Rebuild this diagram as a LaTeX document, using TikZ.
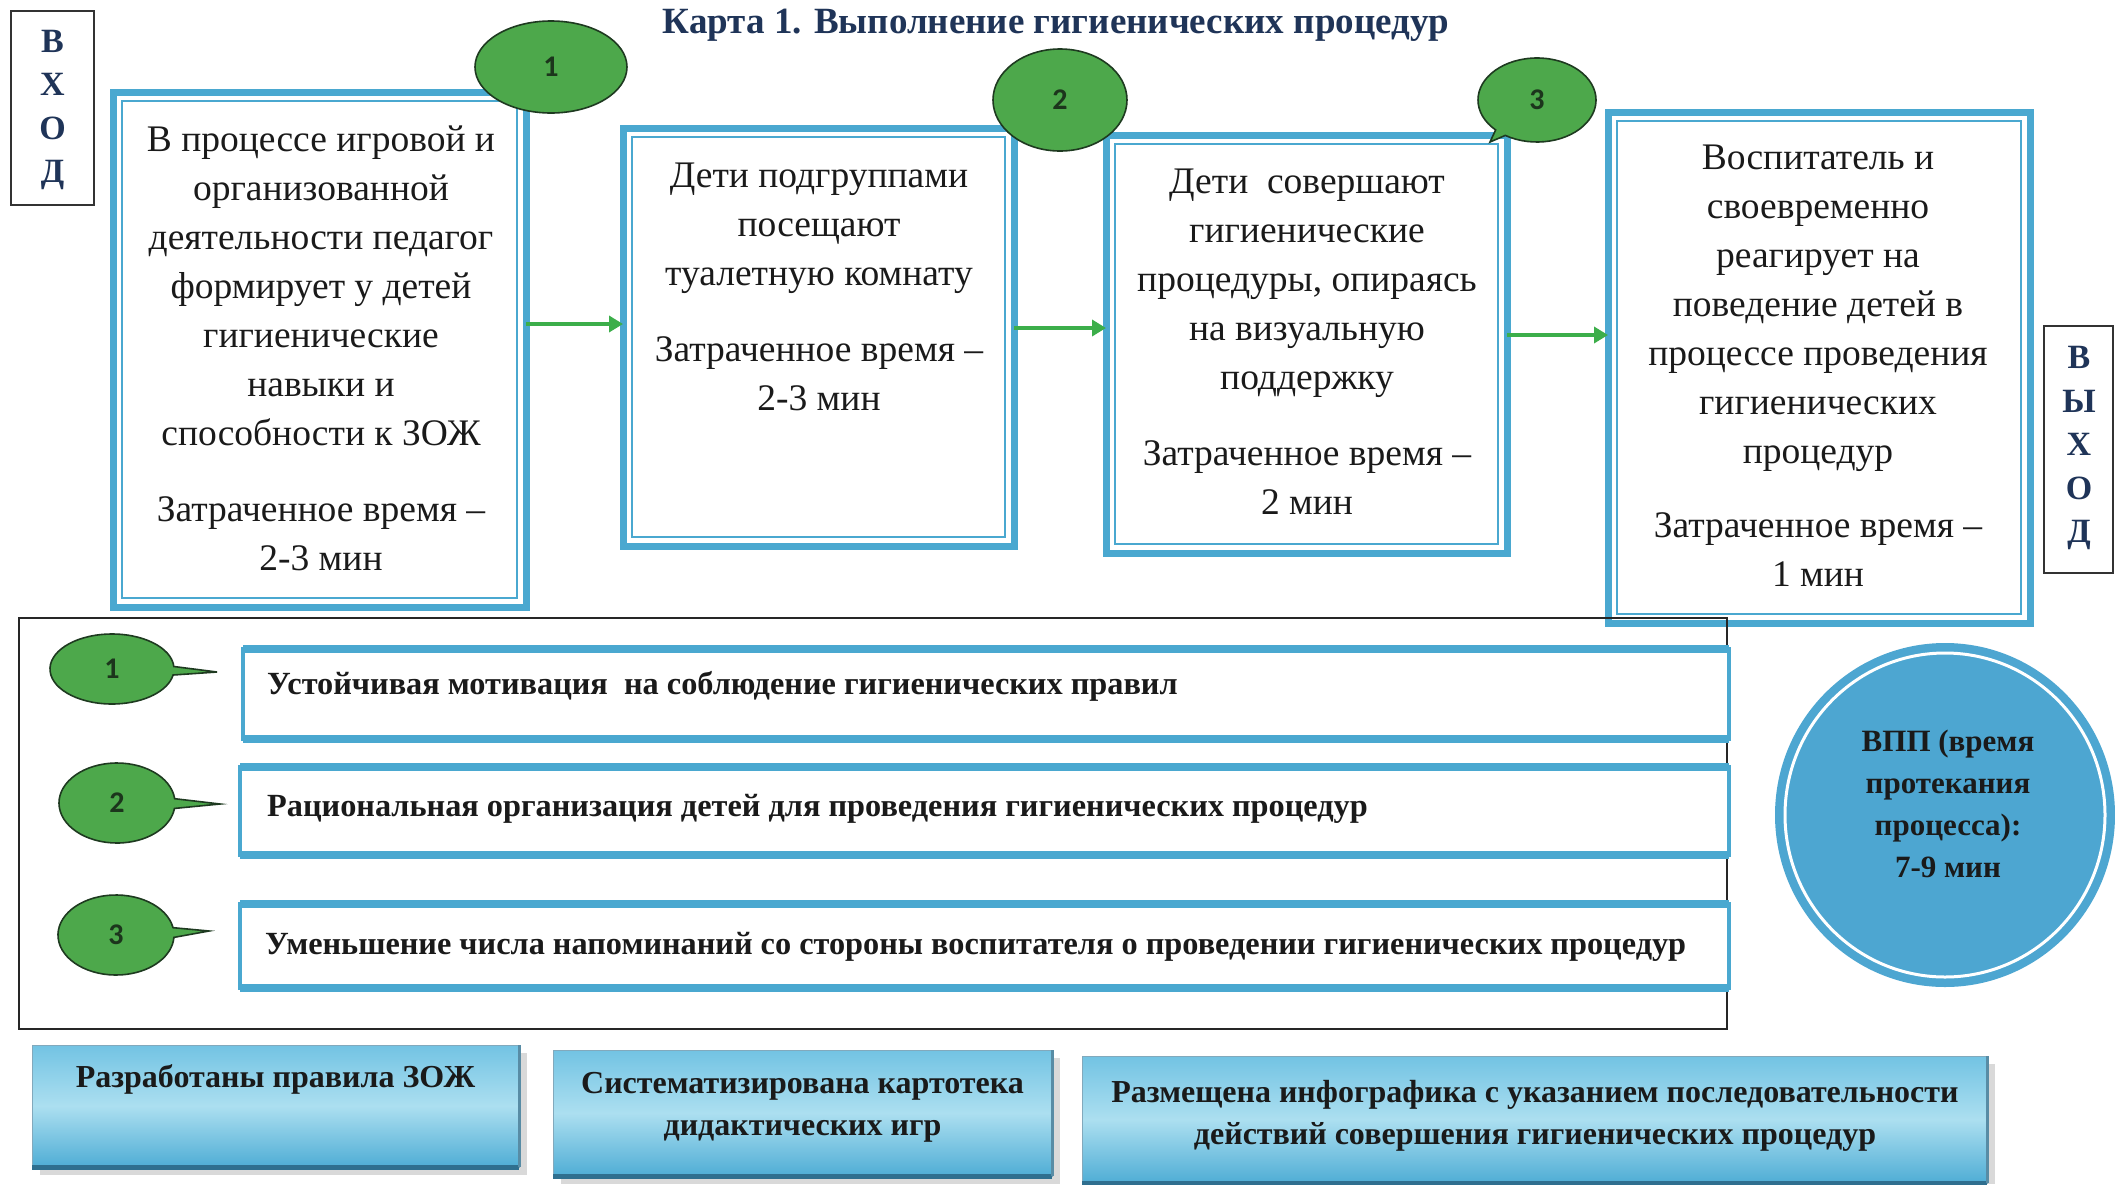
\documentclass[tikz,border=0pt]{standalone}
\usepackage{fontspec}
\setmainfont{Liberation Serif}
\newfontfamily\numfont{Carlito}
\usetikzlibrary{arrows.meta,shapes.geometric,shapes.callouts}
\definecolor{boxblue}{HTML}{4AA8D0}
\definecolor{flowgreen}{HTML}{3CAE4A}
\definecolor{ellgreen}{HTML}{4DA84B}
\definecolor{elldark}{HTML}{1E3A20}
\definecolor{numtxt}{HTML}{1C351C}
\definecolor{txt}{HTML}{1A1A1A}
\definecolor{navy}{HTML}{1F3458}
\definecolor{circblue}{HTML}{4DA6D1}
\definecolor{btop}{HTML}{72C3E3}
\definecolor{bmid}{HTML}{ACDFF0}
\definecolor{bbot}{HTML}{4FADD5}
\definecolor{bshadow}{HTML}{2F6F8F}
\begin{document}
\begin{tikzpicture}[x=1pt,y=-1pt,
  dbox/.style={draw=boxblue, line width=7pt, fill=white, outer sep=0pt, inner sep=0pt},
  innerline/.style={draw=boxblue, line width=1.8pt},
  boxtext/.style={align=center, text=txt, inner sep=0pt, font=\fontsize{37.5}{49}\selectfont},
  sidebox/.style={draw=black!80, line width=2pt, fill=white, outer sep=0pt, inner sep=0pt},
  sidetext/.style={align=center, text=navy, inner sep=0pt, font=\bfseries\fontsize{34}{43.5}\selectfont},
  flow/.style={draw=flowgreen, line width=4pt, -{Triangle[length=14pt,width=16pt]}},
  numell/.style={fill=ellgreen, draw=elldark, line width=1.6pt, inner sep=0pt, text=numtxt, font=\numfont\bfseries\fontsize{30}{30}\selectfont},
  rowbox/.style={draw=boxblue, line width=4pt, fill=white, outer sep=0pt, inner sep=0pt},
  rowedge/.style={draw=boxblue, line width=8pt},
  rowtext/.style={anchor=west, text=txt, inner sep=0pt, font=\bfseries\fontsize{32.3}{32}\selectfont},
  vpptext/.style={align=center, text=txt, inner sep=0pt, font=\bfseries\fontsize{31}{42}\selectfont},
  btmbox/.style={top color=btop, bottom color=bbot, middle color=bmid, draw=bshadow!60, line width=1pt, outer sep=0pt, inner sep=0pt},
  btmtext/.style={align=center, text=txt, inner sep=0pt, font=\bfseries\fontsize{32}{42}\selectfont}
]
\useasboundingbox[fill=white] (0,0) rectangle (2115,1184);

% title
\node[text=navy, inner sep=0pt, font=\bfseries\fontsize{37}{37}\selectfont] (title) at (1056,25) {Карта 1. Выполнение гигиенических процедур};

% side boxes
\node[sidebox, minimum width=83pt, minimum height=194pt] (vhod) at (52.5,108) {};
\node[sidetext] (vhodt) at (52.5,110) {В\\Х\\О\\Д};
\node[sidebox, minimum width=69pt, minimum height=247pt] (vyhod) at (2078.5,449.5) {};
\node[sidetext] (vyhodt) at (2079,448) {В\\Ы\\Х\\О\\Д};

% process boxes
\node[dbox, minimum width=413pt, minimum height=515pt] (b1) at (319.5,349.5) {};
\node[dbox, minimum width=391pt, minimum height=418pt] (b2) at (818.5,337) {};
\node[dbox, minimum width=401pt, minimum height=418pt] (b3) at (1306.5,344) {};
\node[dbox, minimum width=422pt, minimum height=511pt] (b4) at (1819,367.5) {};
\foreach \n in {b1,b2,b3,b4}{
  \draw[innerline] ([xshift=9pt,yshift=-9pt]\n.north west) rectangle ([xshift=-9pt,yshift=9pt]\n.south east);
}
\node[boxtext] (t1) at (321,348) {В процессе игровой и\\ организованной\\ деятельности педагог\\ формирует у детей\\ гигиенические\\ навыки и\\ способности к ЗОЖ\\[27pt] Затраченное время –\\ 2-3 мин};
\node[boxtext] (t2) at (819,287) {Дети подгруппами\\ посещают\\ туалетную комнату\\[27pt] Затраченное время –\\ 2-3 мин};
\node[boxtext] (t3) at (1307,342) {Дети~ совершают\\ гигиенические\\ процедуры, опираясь\\ на визуальную\\ поддержку\\[27pt] Затраченное время –\\ 2 мин};
\node[boxtext] (t4) at (1818,365.5) {Воспитатель и\\ своевременно\\ реагирует на\\ поведение детей в\\ процессе проведения\\ гигиенических\\ процедур\\[25pt] Затраченное время –\\ 1 мин};

% arrows
\coordinate (y1) at (0,324);
\coordinate (y2) at (0,328);
\coordinate (y3) at (0,335);
\draw[flow] (b1.east |- y1) -- (b2.west |- y1);
\draw[flow] (b2.east |- y2) -- (b3.west |- y2);
\draw[flow] (b3.east |- y3) -- (b4.west |- y3);

% numbered ellipses on top
\node[numell, ellipse, minimum width=152pt, minimum height=92pt] (e1) at (551,67) {1};
\node[numell, ellipse, minimum width=134pt, minimum height=102pt] (e2) at (1060,100) {2};
\node[numell, ellipse callout, callout absolute pointer={(1490,142)}, callout pointer arc=12, minimum width=118pt, minimum height=84pt] (e3) at (1537,100) {3};

% legend frame
\node[draw=black!85, line width=2.5pt, minimum width=1708pt, minimum height=411pt, outer sep=0pt, inner sep=0pt] (leg) at (873,823.5) {};

% rows
\node[rowbox, minimum width=1486pt, minimum height=90pt] (r1) at (986,694) {};
\node[rowbox, minimum width=1489pt, minimum height=88pt] (r2) at (984.5,811) {};
\node[rowbox, minimum width=1489pt, minimum height=84pt] (r3) at (984.5,946) {};
\foreach \n in {r1,r2,r3}{
  \draw[rowedge] (\n.north west) -- (\n.north east);
  \draw[rowedge] (\n.south west) -- (\n.south east);
}
\node[rowtext] (r1t) at (267,686) {Устойчивая мотивация~ на соблюдение гигиенических правил};
\node[rowtext] (r2t) at (267,809) {Рациональная организация детей для проведения гигиенических процедур};
\node[rowtext] (r3t) at (265,947) {Уменьшение числа напоминаний со стороны воспитателя о проведении гигиенических процедур};

% legend callouts
\node[numell, ellipse callout, callout absolute pointer={(217,672)}, callout pointer arc=14, minimum width=124pt, minimum height=70pt] (c1) at (112,669) {1};
\node[numell, ellipse callout, callout absolute pointer={(220,804)}, callout pointer arc=14, minimum width=116pt, minimum height=80pt] (c2) at (117,803) {2};
\node[numell, ellipse callout, callout absolute pointer={(209,931)}, callout pointer arc=14, minimum width=116pt, minimum height=80pt] (c3) at (116,935) {3};

% VPP circle
\node[ellipse, fill=circblue, minimum width=340pt, minimum height=344pt, inner sep=0pt] (vpp) at (1945,815) {};
\draw[white, line width=3pt] (vpp.center) ellipse [x radius=160pt, y radius=162pt];
\node[vpptext] (vppt) at (1948,804) {ВПП (время\\ протекания\\ процесса):\\ 7-9 мин};

% bottom boxes
\fill[black!15] (40,1053) rectangle (527,1175);
\fill[black!15] (561,1058) rectangle (1060,1184);
\fill[black!15] (1090,1064) rectangle (1995,1184);
\node[btmbox, minimum width=487pt, minimum height=122pt] (p1) at (275.5,1106) {};
\node[btmbox, minimum width=499pt, minimum height=126pt] (p2) at (802.5,1113) {};
\node[btmbox, minimum width=905pt, minimum height=127pt] (p3) at (1534.5,1119.5) {};
\foreach \n in {p1,p2,p3}{
  \draw[bshadow, line width=5pt] (\n.south west) -- (\n.south east);
  \draw[bshadow!80, line width=3pt] (\n.south east) -- (\n.north east);
}
\node[btmtext] (p1t) at (275.5,1079) {Разработаны правила ЗОЖ};
\node[btmtext] (p2t) at (802.5,1107) {Систематизирована картотека\\ дидактических игр};
\node[btmtext] (p3t) at (1535,1116) {Размещена инфографика с указанием последовательности\\ действий совершения гигиенических процедур};
\end{tikzpicture}
\end{document}
